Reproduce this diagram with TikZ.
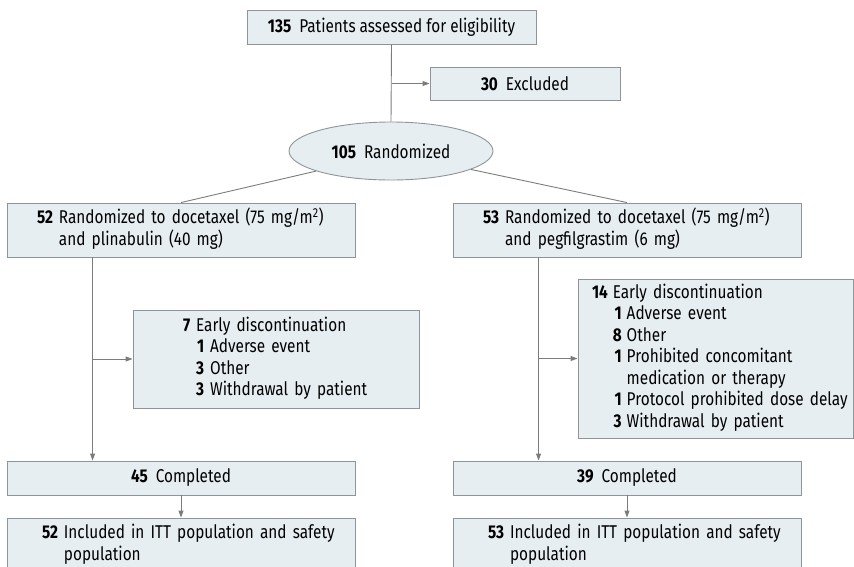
\documentclass[tikz,border=0pt]{standalone}
\usepackage{fontspec}
\setmainfont{Fira Sans}[FakeStretch=0.83]
\usetikzlibrary{positioning,shapes.geometric,arrows.meta}
\usepackage{xcolor}
\definecolor{boxfill}{HTML}{E7EEF2}
\definecolor{boxline}{HTML}{8E959A}
\definecolor{flowline}{HTML}{7C7C7C}
\newcommand{\flowfont}{\fontsize{18.5}{21.5}\selectfont}
\tikzset{
  flowbox/.style={rectangle, draw=boxline, fill=boxfill, line width=0.9pt,
    inner sep=0pt, font=\flowfont, align=center},
  listbox/.style={align=left, inner ysep=0pt},
  randnode/.style={ellipse, draw=boxline, fill=boxfill, line width=0.9pt,
    inner sep=0pt, minimum width=204pt, minimum height=58pt, font=\flowfont},
  flowarrow/.style={draw=flowline, line width=0.9pt, -{Triangle[length=7pt,width=5pt]}},
  flowlink/.style={draw=flowline, line width=0.9pt}
}

\begin{document}
\begin{tikzpicture}[x=1pt,y=-1pt]
    \useasboundingbox (0,0) rectangle (854,566);

    % enrollment
    \node[flowbox, minimum width=289pt, minimum height=34pt] (elig) at (391.5,27)
        {\textbf{135}\hspace{8pt}Patients assessed for eligibility};
    \node[flowbox, minimum width=190pt, minimum height=33pt] (excl) at (525,83.5)
        {\textbf{30}\hspace{8pt}Excluded};
    \node[randnode] (rand) at (391,151) {\textbf{105}\hspace{8pt}Randomized};

    % allocation
    \node[flowbox, listbox, text width=288pt, inner xsep=30pt, minimum height=54pt] (armA) at (181,230)
        {\begin{tabular}{@{}r@{\hspace{6pt}}l@{}}
            \textbf{52} & Randomized to docetaxel (75 mg/m\textsuperscript{2})\\
            & and plinabulin (40 mg)
        \end{tabular}};
    \node[flowbox, listbox, text width=288pt, inner xsep=30pt, minimum height=54pt] (armB) at (627,230)
        {\begin{tabular}{@{}r@{\hspace{6pt}}l@{}}
            \textbf{53} & Randomized to docetaxel (75 mg/m\textsuperscript{2})\\
            & and pegfilgrastim (6 mg)
        \end{tabular}};

    % follow-up
    \node[flowbox, listbox, text width=186pt, inner xsep=50pt, minimum height=98pt] (discA) at (276,359)
        {\begin{tabular}{@{}r@{\hspace{6pt}}r@{\hspace{6pt}}l@{}}
            \textbf{7} & \multicolumn{2}{@{}l@{}}{Early discontinuation}\\
            & \textbf{1} & Adverse event\\
            & \textbf{3} & Other\\
            & \textbf{3} & Withdrawal by patient
        \end{tabular}};
    \node[flowbox, listbox, text width=247pt, inner xsep=14pt, minimum height=159pt] (discB) at (715.5,358.5)
        {\begin{tabular}{@{}r@{\hspace{5pt}}r@{\hspace{5pt}}l@{}}
            \textbf{14} & \multicolumn{2}{@{}l@{}}{Early discontinuation}\\
            & \textbf{1} & Adverse event\\
            & \textbf{8} & Other\\
            & \textbf{1} & Prohibited concomitant\\
            & & medication or therapy\\
            & \textbf{1} & Protocol prohibited dose delay\\
            & \textbf{3} & Withdrawal by patient
        \end{tabular}};

    % analysis
    \node[flowbox, minimum width=348pt, minimum height=34pt] (compA) at (181,478)
        {\textbf{45}\hspace{8pt}Completed};
    \node[flowbox, minimum width=348pt, minimum height=34pt] (compB) at (627,478)
        {\textbf{39}\hspace{8pt}Completed};
    \node[flowbox, listbox, text width=278pt, inner xsep=35pt, minimum height=54pt] (ittA) at (181,545)
        {\begin{tabular}{@{}r@{\hspace{6pt}}l@{}}
            \textbf{52} & Included in ITT population and safety\\
            & population
        \end{tabular}};
    \node[flowbox, listbox, text width=278pt, inner xsep=35pt, minimum height=54pt] (ittB) at (627,545)
        {\begin{tabular}{@{}r@{\hspace{6pt}}l@{}}
            \textbf{53} & Included in ITT population and safety\\
            & population
        \end{tabular}};

    % connectors
    \draw[flowlink] (elig.south) -- (rand.north);
    \draw[flowarrow] (elig.south |- excl.west) -- (excl.west);
    \draw[flowlink] (rand.195) -- (armA.north);
    \draw[flowlink] (rand.-13) -- (armB.north);

    \coordinate (trunkA) at ([xshift=86pt]armA.south west);
    \coordinate (trunkB) at ([xshift=86pt]armB.south west);
    \draw[flowarrow] (trunkA) -- (trunkA |- compA.north);
    \draw[flowarrow] (trunkA |- discA.west) -- (discA.west);
    \draw[flowarrow] (trunkB) -- (trunkB |- compB.north);
    \draw[flowarrow] (trunkB |- discB.west) -- (discB.west);

    \draw[flowarrow] (compA.south) -- (ittA.north);
    \draw[flowarrow] (compB.south) -- (ittB.north);
\end{tikzpicture}
\end{document}
